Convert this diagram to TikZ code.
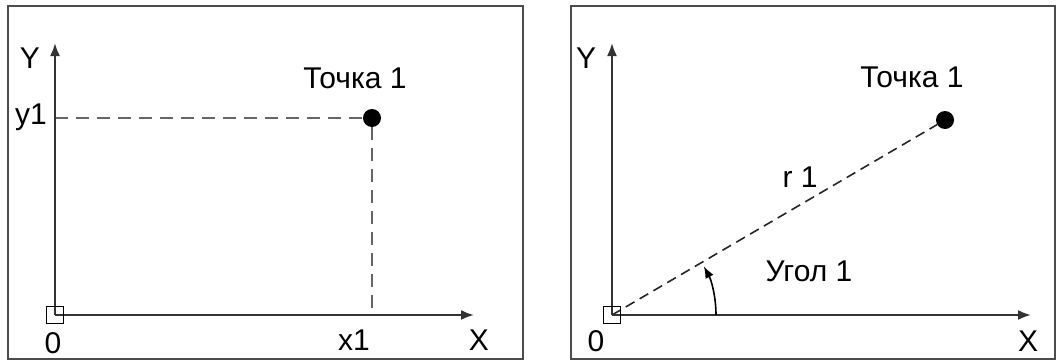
\documentclass[tikz,border=0pt]{standalone}
\usepackage{fontspec}
\setmainfont{Liberation Sans}
\usetikzlibrary{arrows.meta}
\begin{document}
\begin{tikzpicture}[x=1pt,y=-1pt,
  frame/.style={draw=black!70,line width=2.2pt},
  axis/.style={draw=black!80,line width=2.1pt,-{Latex[length=13pt,width=10pt]}},
  guide/.style={draw=black!60,line width=2.4pt,dash pattern=on 13pt off 8pt},
  ray/.style={draw=black!85,line width=1.6pt,dash pattern=on 10pt off 6pt},
  lbl/.style={font=\fontsize{30}{32}\selectfont,inner sep=0pt,text=black},
  pt/.style={circle,fill=black,inner sep=0pt,minimum size=18pt},
  orig/.style={draw=black,line width=1.4pt,minimum size=17pt,inner sep=0pt}
]
\useasboundingbox (0,0) rectangle (1058,362);
% frames
\draw[frame] (8,6) rectangle (523,359);
\draw[frame] (571,6) rectangle (1055,359);

% ---- left panel: Cartesian ----
\coordinate (O1) at (55,315);
\coordinate (Yt1) at (55,43);
\coordinate (Xt1) at (474,315);
\coordinate (Y1) at (55,118);
\coordinate (X1) at (372,315);
\node[pt] (P1) at (372,118) {};
\draw[guide] (Y1) -- (P1);
\draw[guide] (P1) -- (X1);
\draw[axis] (O1) -- (Yt1);
\draw[axis] (O1) -- (Xt1);
\node[orig] (S1) at (O1) {};
\node[lbl] (LY1) at (30,58) {Y};
\node[lbl] (Ly1) at (31,117) {y1};
\node[lbl] (L01) at (53,343) {0};
\node[lbl] (Lx1) at (354,340) {x1};
\node[lbl] (LX1) at (479,340) {X};
\node[lbl] (LP1) at (355,78) {Точка 1};

% ---- right panel: polar ----
\coordinate (O2) at (612,315);
\coordinate (Yt2) at (612,43);
\coordinate (Xt2) at (1031,315);
\node[pt] (P2) at (945,120) {};
\draw[ray] (O2) -- (P2);
\draw[axis] (O2) -- (Yt2);
\draw[axis] (O2) -- (Xt2);
\node[orig] (S2) at (O2) {};
\draw[black,line width=1.6pt,-{Latex[length=12pt,width=9pt]}]
  (O2) ++(104,0) coordinate (A0) arc[start angle=0,end angle=-28,radius=104] coordinate (A1);
\node[lbl] (LY2) at (586,58) {Y};
\node[lbl] (L02) at (596,341) {0};
\node[lbl] (LX2) at (1028,341) {X};
\node[lbl] (LP2) at (912,77) {Точка 1};
\node[lbl] (Lr) at (800,177) {r 1};
\node[lbl] (La) at (809,271) {Угол 1};
\end{tikzpicture}
\end{document}
